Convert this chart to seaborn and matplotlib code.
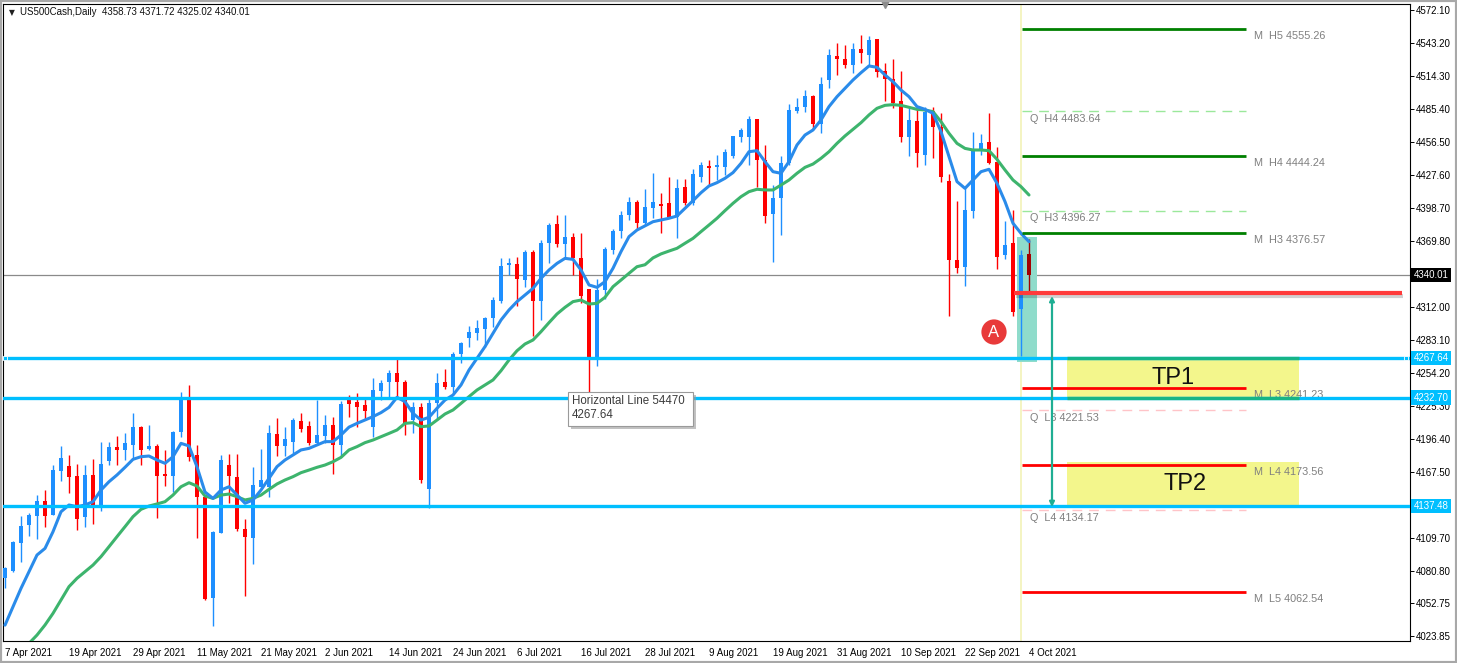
import numpy as np
import pandas as pd
import matplotlib
matplotlib.use("Agg")
import matplotlib.pyplot as plt
from matplotlib.patches import Rectangle
import seaborn as sns

# ---------------- data ----------------
title_symbol = "US500Cash,Daily"
title_ohlc = "4358.73 4371.72 4325.02 4340.01"

opens = [4075.0, 4081.1, 4105.6, 4121.1, 4129.2, 4141.8, 4130.1, 4168.7, 4172.7, 4164.0,
         4127.8, 4164.9, 4135.7, 4177.4, 4189.0, 4186.8, 4191.1, 4206.6, 4187.6, 4190.3,
         4165.4, 4164.0, 4202.8, 4232.9, 4182.4, 4145.9, 4057.4, 4114.3, 4173.6, 4162.8,
         4117.6, 4109.9, 4154.6, 4154.1, 4200.8, 4190.3, 4194.1, 4211.9, 4207.8, 4193.2,
         4199.0, 4208.4, 4191.4, 4232.0, 4229.1, 4226.2, 4207.2, 4238.7, 4246.6, 4253.9,
         4246.6, 4213.0, 4224.7, 4152.3, 4228.2, 4246.6, 4242.2, 4270.8, 4284.5, 4289.5,
         4292.4, 4302.1, 4317.5, 4348.8, 4349.7, 4335.6, 4360.5, 4317.5, 4368.3, 4384.7,
         4366.9, 4373.0, 4354.6, 4327.5, 4268.5, 4326.9, 4361.9, 4378.8, 4393.0, 4404.0,
         4385.9, 4399.0, 4402.2, 4402.8, 4390.5, 4417.4, 4402.8, 4426.1, 4435.5, 4434.3,
         4434.9, 4444.2, 4460.6, 4460.6, 4476.4, 4440.7, 4393.2, 4407.2, 4438.4, 4483.9,
         4486.9, 4496.8, 4472.3, 4510.8, 4531.8, 4528.9, 4523.9, 4537.7, 4532.7, 4546.4,
         4519.0, 4511.4, 4492.7, 4461.2, 4475.2, 4445.1, 4483.9, 4469.3, 4422.6, 4353.2,
         4346.7, 4396.4, 4449.5, 4456.5, 4439.3, 4357.5, 4367.7, 4309.9, 4358.73]
highs = [4084.6, 4107.1, 4129.0, 4131.9, 4147.3, 4151.7, 4173.6, 4190.3, 4182.4, 4174.5,
         4173.6, 4178.9, 4194.1, 4194.1, 4199.0, 4201.9, 4218.9, 4207.8, 4208.7, 4192.0,
         4186.8, 4203.7, 4237.8, 4243.7, 4191.1, 4147.3, 4115.5, 4182.4, 4183.3, 4183.3,
         4126.0, 4172.2, 4187.3, 4208.7, 4214.5, 4207.2, 4214.5, 4218.9, 4211.9, 4230.6,
         4217.4, 4215.4, 4230.0, 4234.9, 4237.0, 4233.5, 4249.5, 4248.1, 4256.8, 4266.2,
         4248.1, 4229.1, 4228.0, 4231.1, 4254.5, 4257.4, 4272.9, 4281.6, 4295.4, 4300.6,
         4303.5, 4320.5, 4354.6, 4354.6, 4355.5, 4361.9, 4361.9, 4370.7, 4385.8, 4392.6,
         4392.6, 4376.5, 4376.5, 4327.5, 4336.2, 4364.8, 4380.0, 4396.0, 4408.0, 4406.0,
         4415.1, 4429.7, 4411.5, 4426.1, 4423.8, 4423.8, 4432.6, 4439.3, 4440.8, 4445.1,
         4450.1, 4461.8, 4468.5, 4479.3, 4477.0, 4453.9, 4418.8, 4444.2, 4489.8, 4494.7,
         4502.0, 4497.7, 4513.7, 4537.7, 4543.5, 4541.5, 4542.9, 4550.2, 4549.3, 4546.8,
         4525.4, 4528.9, 4519.0, 4487.4, 4485.1, 4486.9, 4486.9, 4482.2, 4428.5, 4405.1,
         4415.9, 4465.6, 4463.5, 4482.2, 4452.4, 4387.6, 4397.0, 4362.0, 4371.72]
lows = [4065.6, 4079.9, 4089.0, 4111.4, 4108.5, 4119.6, 4129.5, 4159.9, 4149.4, 4116.7,
        4119.6, 4121.9, 4133.6, 4173.6, 4173.6, 4178.0, 4179.5, 4173.6, 4186.8, 4126.9,
        4155.2, 4150.3, 4198.4, 4177.4, 4109.4, 4055.4, 4032.6, 4113.8, 4140.6, 4116.1,
        4058.9, 4086.9, 4154.1, 4145.9, 4181.5, 4181.5, 4183.8, 4202.8, 4191.1, 4191.1,
        4192.6, 4165.7, 4180.9, 4216.0, 4207.2, 4213.0, 4198.4, 4230.5, 4233.5, 4233.5,
        4199.9, 4201.4, 4157.6, 4135.7, 4213.0, 4239.9, 4236.4, 4262.7, 4277.3, 4283.1,
        4277.3, 4294.8, 4315.2, 4340.0, 4312.9, 4329.8, 4286.6, 4300.6, 4350.2, 4364.8,
        4354.6, 4340.0, 4315.2, 4233.0, 4260.3, 4318.7, 4358.0, 4372.0, 4388.0, 4380.0,
        4384.0, 4389.7, 4377.1, 4389.7, 4372.1, 4401.3, 4401.3, 4421.8, 4418.8, 4423.2,
        4427.6, 4442.2, 4456.8, 4436.4, 4417.4, 4385.3, 4351.7, 4375.1, 4436.4, 4481.6,
        4483.1, 4467.6, 4464.1, 4503.5, 4515.2, 4521.0, 4517.2, 4525.4, 4523.9, 4513.7,
        4492.7, 4486.0, 4456.8, 4444.2, 4434.9, 4436.4, 4442.2, 4421.8, 4304.1, 4341.5,
        4330.7, 4390.0, 4445.0, 4437.0, 4345.0, 4353.7, 4304.1, 4269.0, 4325.02]
closes = [4083.7, 4105.9, 4120.2, 4129.8, 4141.8, 4129.2, 4169.2, 4179.5, 4163.4, 4126.6,
          4164.9, 4136.3, 4174.5, 4189.0, 4187.1, 4193.2, 4206.6, 4186.8, 4190.3, 4164.0,
          4164.3, 4202.8, 4232.9, 4180.3, 4145.9, 4056.0, 4114.9, 4178.0, 4164.0, 4117.6,
          4110.8, 4155.8, 4160.5, 4201.3, 4190.3, 4196.4, 4213.0, 4205.4, 4193.2, 4199.6,
          4208.4, 4191.1, 4227.1, 4227.0, 4224.7, 4221.2, 4239.3, 4245.7, 4253.9, 4246.6,
          4210.7, 4224.7, 4160.5, 4227.6, 4245.7, 4242.2, 4270.8, 4280.2, 4290.4, 4293.3,
          4302.1, 4318.1, 4347.9, 4350.8, 4336.2, 4360.5, 4317.5, 4367.7, 4383.8, 4366.9,
          4373.0, 4354.6, 4321.6, 4268.5, 4326.9, 4362.5, 4378.8, 4393.0, 4404.0, 4386.0,
          4399.9, 4403.7, 4400.7, 4390.5, 4415.9, 4403.4, 4428.5, 4436.1, 4433.5, 4436.4,
          4447.7, 4461.8, 4467.0, 4476.9, 4440.7, 4392.0, 4407.2, 4437.8, 4484.5, 4486.9,
          4496.8, 4472.3, 4507.3, 4532.7, 4529.5, 4523.9, 4537.9, 4534.2, 4545.8, 4518.1,
          4511.4, 4491.0, 4461.2, 4475.8, 4446.6, 4483.1, 4469.9, 4425.6, 4353.2, 4346.3,
          4397.0, 4450.1, 4455.3, 4438.4, 4356.1, 4366.3, 4307.9, 4357.5, 4340.01]

ma_fast = [4033.4, 4049.5, 4065.6, 4080.2, 4094.8, 4100.6, 4115.2, 4132.7, 4138.6, 4137.1,
           4138.6, 4141.5, 4151.7, 4159.0, 4164.9, 4171.6, 4178.6, 4180.9, 4181.5, 4178.0,
           4175.1, 4180.9, 4192.6, 4190.3, 4172.0, 4150.0, 4144.4, 4151.7, 4154.6, 4147.3,
           4140.1, 4143.0, 4151.7, 4161.9, 4172.2, 4178.0, 4182.4, 4186.8, 4188.2, 4191.1,
           4194.1, 4194.1, 4199.9, 4206.8, 4210.1, 4213.0, 4216.0, 4219.5, 4224.1, 4232.9,
           4229.1, 4218.9, 4213.0, 4215.4, 4223.3, 4230.5, 4234.9, 4243.7, 4256.8, 4267.0,
           4277.3, 4288.9, 4300.6, 4309.4, 4316.7, 4322.5, 4328.3, 4337.1, 4344.4, 4350.2,
           4354.6, 4353.7, 4344.4, 4331.3, 4329.2, 4334.2, 4345.9, 4360.5, 4373.6, 4379.4,
           4383.0, 4386.7, 4388.2, 4389.7, 4391.7, 4398.4, 4405.1, 4412.1, 4418.0, 4420.9,
           4424.7, 4429.7, 4437.8, 4448.0, 4448.9, 4439.3, 4430.5, 4429.1, 4439.3, 4453.9,
           4462.6, 4467.0, 4475.8, 4487.5, 4496.2, 4503.5, 4510.8, 4517.2, 4523.1, 4521.9,
           4515.2, 4509.3, 4502.0, 4496.2, 4487.5, 4485.1, 4481.6, 4465.6, 4443.7, 4421.8,
           4415.9, 4423.2, 4430.5, 4432.6, 4420.3, 4404.3, 4385.3, 4376.5, 4369.2]
ma_slow = [np.nan, np.nan, np.nan, 4017.4, 4024.7, 4033.5, 4043.7, 4055.4, 4067.1, 4074.4,
           4080.2, 4086.0, 4093.4, 4102.1, 4110.9, 4119.6, 4128.4, 4134.8, 4137.7, 4139.5,
           4141.5, 4147.3, 4154.6, 4158.1, 4155.2, 4146.5, 4144.4, 4147.3, 4148.2, 4145.9,
           4143.0, 4144.4, 4147.3, 4152.3, 4157.0, 4160.5, 4163.4, 4166.9, 4169.2, 4171.6,
           4173.6, 4176.5, 4180.3, 4186.8, 4189.7, 4193.2, 4195.5, 4198.4, 4201.3, 4204.3,
           4210.1, 4210.7, 4207.2, 4207.8, 4213.0, 4218.3, 4221.8, 4227.6, 4233.5, 4239.3,
           4243.7, 4248.1, 4256.2, 4265.6, 4273.7, 4279.6, 4283.1, 4290.4, 4298.3, 4305.9,
           4311.7, 4316.7, 4318.1, 4314.6, 4315.2, 4320.5, 4329.8, 4335.6, 4341.5, 4347.3,
           4349.0, 4355.0, 4358.5, 4361.0, 4363.4, 4367.8, 4372.1, 4378.0, 4383.8, 4389.7,
           4396.4, 4402.8, 4408.6, 4413.0, 4415.1, 4414.5, 4414.5, 4418.8, 4423.2, 4429.1,
           4434.3, 4437.2, 4442.2, 4448.0, 4455.3, 4461.8, 4467.6, 4473.4, 4480.2, 4486.0,
           4488.6, 4489.2, 4488.6, 4486.9, 4485.1, 4484.5, 4483.1, 4474.3, 4464.1, 4455.3,
           4450.9, 4449.5, 4449.5, 4448.9, 4441.3, 4432.0, 4423.2, 4417.4, 4410.1]

date_labels = ["7 Apr 2021", "19 Apr 2021", "29 Apr 2021", "11 May 2021", "21 May 2021",
               "2 Jun 2021", "14 Jun 2021", "24 Jun 2021", "6 Jul 2021", "16 Jul 2021",
               "28 Jul 2021", "9 Aug 2021", "19 Aug 2021", "31 Aug 2021", "10 Sep 2021",
               "22 Sep 2021", "4 Oct 2021"]
price_labels = ["4572.10", "4543.20", "4514.30", "4485.40", "4456.50", "4427.60", "4398.70",
                "4369.80", "4312.00", "4283.10", "4254.20", "4225.30", "4196.40", "4167.50",
                "4109.70", "4080.80", "4052.75", "4023.85"]

last_price = 4340.01
cyan_levels = [4267.64, 4232.70, 4137.48]
signal_level = 4324.2
m_names = ["M  H5", "M  H4", "M  H3", "M  L3", "M  L4", "M  L5"]
m_values = [4555.26, 4444.24, 4376.57, 4241.23, 4173.56, 4062.54]
q_names = ["Q  H4", "Q  H3", "Q  L3", "Q  L4"]
q_values = [4483.64, 4396.27, 4221.53, 4134.17]
tp_names = ["TP1", "TP2"]
tp_tops = [4267.64, 4176.2]
tp_bottoms = [4232.70, 4137.48]
target_from, target_to = 4321.6, 4136.8
note_title = "Horizontal Line 54470"
note_value = "4267.64"
marker_text = "A"

# ---------------- style ----------------
sns.set_theme(style="white")
plt.rcParams["font.family"] = ["Liberation Sans", "DejaVu Sans"]

W, H = 1457, 663
fig = plt.figure(figsize=(W / 100, H / 100), dpi=100)
fig.patch.set_facecolor("white")
ax_l, ax_r, ax_t, ax_b = 3, 1410, 4, 641
ax = fig.add_axes([ax_l / W, 1 - ax_b / H, (ax_r - ax_l) / W, (ax_b - ax_t) / H])
ax.set_facecolor("white")

BAR_PX = 8.0
PX_PRICE = 28.9 / 33.0
first_px = 5
ref_price, ref_px = 4572.10, 10
ax.set_xlim(-(first_px - ax_l) / BAR_PX, (ax_r - first_px) / BAR_PX)
ax.set_ylim(ref_price - (ax_b - ref_px) * PX_PRICE, ref_price + (ref_px - ax_t) * PX_PRICE)

def bx(px):
    return (px - first_px) / BAR_PX

def py(px):
    return ref_price - (px - ref_px) * PX_PRICE

df = pd.DataFrame({"open": opens, "high": highs, "low": lows, "close": closes,
                   "fast": ma_fast, "slow": ma_slow})
df["bar"] = np.arange(len(df))
up = df["close"] >= df["open"]
BLUE, RED = "#1E8FFF", "#FF0000"
colors = np.where(up, BLUE, RED).astype(object)
colors[-1] = "#A30000"

# current price line
ax.axhline(last_price, color="#8a8a8a", lw=0.9, zorder=1)
# pivot day separator
ax.axvline(127, color="#f2f2b8", lw=1.2, zorder=1)

# teal highlight behind last candles
ax.add_patch(Rectangle((bx(1017), py(362)), (1037 - 1017) / BAR_PX, py(237) - py(362),
                       facecolor="#8fdccb", edgecolor="none", zorder=1.5))

# candles
ax.vlines(df["bar"], df["low"], df["high"], colors=list(colors), lw=1.0, zorder=3)
body_lo = np.minimum(df["open"], df["close"])
body_h = np.maximum((df["close"] - df["open"]).abs(), 1.0)
ax.bar(df["bar"], body_h, bottom=body_lo, width=0.62, color=list(colors),
       edgecolor="none", linewidth=0, zorder=3.2)

# moving averages
sns.lineplot(data=df, x="bar", y="slow", ax=ax, color="#3DB46D", lw=2.2, zorder=4)
sns.lineplot(data=df, x="bar", y="fast", ax=ax, color="#2A8BEA", lw=2.2, zorder=4.2)

# TP boxes (under pivot lines and cyan levels)
tpx0, tpx1 = bx(1067), bx(1299)
for name, top, bot in zip(tp_names, tp_tops, tp_bottoms):
    ax.add_patch(Rectangle((tpx0, bot), tpx1 - tpx0, top - bot, facecolor="#f3f68c",
                           edgecolor="none", zorder=5.0))

# pivot lines
x0, x1 = bx(1022), bx(1246)
for name, val in zip(m_names, m_values):
    col = "#008000" if "H" in name else "#FF0000"
    ax.hlines(val, x0, x1, color=col, lw=2.0, zorder=5.2)
    ax.annotate(f"{name} {val:.2f}", xy=(bx(1254), val), xytext=(0, -1.5),
                textcoords="offset points", ha="left", va="top", fontsize=7.8,
                color="#7f7f7f", zorder=5.2)
for name, val in zip(q_names, q_values):
    col = "#9be89b" if "H" in name else "#ffc4c8"
    ax.hlines(val, x0, x1, color=col, lw=1.0, linestyles=(0, (7, 5)), zorder=5.1)
    ax.annotate(f"{name} {val:.2f}", xy=(bx(1030), val), xytext=(0, -1.8),
                textcoords="offset points", ha="left", va="top", fontsize=7.8,
                color="#7f7f7f", zorder=5.2)

# cyan horizontal lines
for lv in cyan_levels:
    ax.axhline(lv, color="#00BFFF", lw=2.4, zorder=5.3)
# TP1 borders (box edge over line)
for lv in (tp_tops[0], tp_bottoms[0]):
    ax.hlines(lv, tpx0, tpx1, color="#16b487", lw=2.4, zorder=5.6)
for k, name in enumerate(tp_names):
    ax.text((tpx0 + tpx1) / 2 - 1.2 + 1.5 * k, (tp_tops[k] + tp_bottoms[k]) / 2, name,
            ha="center", va="center", fontsize=17, color="#111111", zorder=6)
# selected line handles
ax.plot([0, bx(1406)], [cyan_levels[0]] * 2, ls="none", marker="s", ms=3.5,
        color="#00BFFF", mec="#ffffff", mew=0.6, zorder=6, clip_on=False)

# signal (red) line with shadow
ax.hlines(signal_level - 2.3, bx(1016), bx(1403), color="#000000", alpha=0.18, lw=3,
          zorder=5.7)
ax.hlines(signal_level, bx(1014), bx(1402), color="#FF3B3B", lw=3, zorder=5.8)

# target arrow
ax.annotate("", xy=(bx(1052), target_to), xytext=(bx(1052), target_from),
            arrowprops=dict(arrowstyle="<|-|>", color="#1fae93", lw=1.6,
                            mutation_scale=7, shrinkA=0, shrinkB=0), zorder=7)

# "A" marker
ax.scatter([bx(994)], [py(332)], s=330, color="#E83A3A", edgecolor="none", zorder=7)
ax.text(bx(994), py(332.5), marker_text, ha="center", va="center", color="white",
        fontsize=12, zorder=8)

# note box
bx0, bx1, by0, by1 = bx(568), bx(693), py(392), py(426)
ax.add_patch(Rectangle((bx0 + 3 / BAR_PX, by1 - 3 * PX_PRICE), bx1 - bx0, by0 - by1,
                       facecolor="#9a9a9a", edgecolor="none", alpha=0.6, zorder=8))
ax.add_patch(Rectangle((bx0, by1), bx1 - bx0, by0 - by1, facecolor="white",
                       edgecolor="#9a9a9a", lw=0.8, zorder=8.1))
ax.text(bx(572), py(401), note_title, ha="left", va="center", fontsize=8.3,
        color="#3c3c3c", zorder=8.2)
ax.text(bx(572), py(415), note_value, ha="left", va="center", fontsize=8.3,
        color="#3c3c3c", zorder=8.2)

# title
ax.annotate("\u25bc", xy=(0, 1), xycoords="axes fraction", xytext=(4.0, -5.8),
            textcoords="offset points", ha="left", va="center", fontsize=5.5,
            color="#202020", family=["DejaVu Sans"])
ax.annotate(f"{title_symbol}  {title_ohlc}", xy=(0, 1), xycoords="axes fraction",
            xytext=(12.6, -5.8), textcoords="offset points", ha="left", va="center",
            fontsize=7, color="#101010")
# top shift marker
ax.plot([110], [1], transform=ax.get_xaxis_transform(), marker="v", ms=6,
        color="#8c8c8c", clip_on=False, zorder=9)

# axes / ticks
ax.set_xlabel("")
ax.set_ylabel("")
ax.grid(False)
for s in ax.spines.values():
    s.set_color("#000000")
    s.set_linewidth(0.8)
ax.set_xticks(np.arange(len(date_labels)) * 8)
ax.set_xticklabels(date_labels, ha="left", fontsize=7, color="#000000")
ax.yaxis.tick_right()
ax.set_yticks([float(v) for v in price_labels])
ax.set_yticklabels(price_labels, fontsize=7, color="#000000")
ax.tick_params(axis="x", direction="out", length=3, width=0.7, pad=2, colors="#000000")
ax.tick_params(axis="y", direction="out", length=3, width=0.7, pad=1.5, colors="#000000")
ax.tick_params(axis="y", left=False, right=True)

# price boxes on the right scale
trans = ax.get_yaxis_transform()
ax.text(1.0025, last_price, f"{last_price:.2f}", transform=trans, ha="left", va="center",
        fontsize=7, color="white", zorder=10, clip_on=False,
        bbox=dict(boxstyle="square,pad=0.22", facecolor="#000000", edgecolor="none"))
for lv in cyan_levels:
    ax.text(1.0025, lv, f"{lv:.2f}", transform=trans, ha="left", va="center",
            fontsize=7, color="white", zorder=10, clip_on=False,
            bbox=dict(boxstyle="square,pad=0.22", facecolor="#00BFFF", edgecolor="none"))

# window border
fig.patches.append(Rectangle((0, 0), 1, 1, transform=fig.transFigure, fill=False,
                             edgecolor="#a8a8a8", lw=3))

fig.savefig("out.png", dpi=100, facecolor="white")
